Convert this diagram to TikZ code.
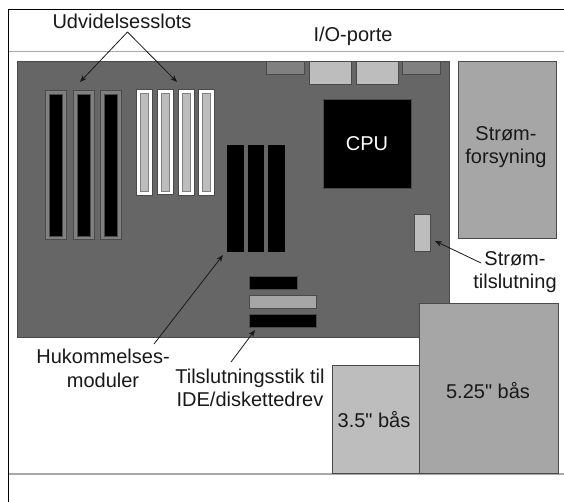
\documentclass[tikz,border=0pt]{standalone}
\usepackage{fontspec}
\setmainfont{Liberation Sans}
\newfontfamily\plainquote{Liberation Sans}
\usetikzlibrary{arrows.meta}
\definecolor{board}{HTML}{666666}
\definecolor{edge}{HTML}{4A4A4A}
\definecolor{midgray}{HTML}{808080}
\definecolor{lightgray2}{HTML}{BDBDBD}
\definecolor{psu}{HTML}{A6A6A6}
\definecolor{rule}{HTML}{A8A8A8}
\tikzset{
  x=1pt,y=-1pt,
  lbl/.style={font=\fontsize{20}{23}\selectfont,align=center,inner sep=0pt,text=black!90},
  pointer/.style={draw=black!90,line width=0.8pt,-{Stealth[length=7pt,width=5.5pt]}}
}
\newcommand{\blackslot}[1]{%
  \fill[midgray,draw=edge,line width=0.8pt] (#1,90) rectangle (#1+21,239);
  \fill[black,draw=edge,line width=0.6pt] (#1+4,94) rectangle (#1+17,236);}
\newcommand{\whiteslot}[2]{%
  \fill[white,draw=edge,line width=0.8pt] (#1,#2) rectangle (#1+16,#2+105.5);
  \fill[lightgray2,draw=midgray,line width=0.8pt] (#1+4,#2+4) rectangle (#1+12,#2+102);}
\begin{document}
\begin{tikzpicture}
\useasboundingbox (0,0) rectangle (564,502);
\fill[white] (0,0) rectangle (564,502);
% page rules
\draw[rule,line width=1pt] (9,52) -- (564,52);
\draw[rule,line width=1.2pt] (9,474) -- (564,474);
\draw[black,line width=1pt] (8.5,502) -- (8.5,9.5) -- (564,9.5);
% board
\node[fill=board,draw=edge,line width=0.6pt,minimum width=432pt,minimum height=276pt,inner sep=0pt,anchor=north west] (brd) at (17,61) {};
% top ports
\fill[midgray,draw=edge,line width=0.8pt] (266,61) rectangle (304,74);
\fill[lightgray2,draw=edge,line width=0.8pt] (309,61) rectangle (351,84);
\fill[lightgray2,draw=edge,line width=0.8pt] (356,61) rectangle (398,84);
\fill[midgray,draw=edge,line width=0.8pt] (402,61) rectangle (440,74);
% expansion slots
\blackslot{45}\blackslot{73}\blackslot{100.5}
\whiteslot{136}{89.5}\whiteslot{157}{89}\whiteslot{178}{89.5}\whiteslot{198}{89.5}
% memory
\fill[black] (227,145) rectangle (244,252);
\fill[black] (248,145) rectangle (264,252);
\fill[black] (268,145) rectangle (285,252);
% drive connectors
\fill[black,draw=edge,line width=0.6pt] (249,276) rectangle (297,289);
\fill[psu,draw=edge,line width=0.8pt] (249,295) rectangle (316,308);
\fill[black,draw=edge,line width=0.6pt] (249,314) rectangle (316,327);
% CPU
\node[fill=black,draw=edge,line width=0.5pt,minimum width=88.5pt,minimum height=89pt,inner sep=0pt,anchor=north west,text=white,font=\fontsize{20}{23}\selectfont] (cpu) at (322.5,99) {CPU};
% power connector
\node[fill=lightgray2,draw=edge,line width=0.8pt,minimum width=16pt,minimum height=37pt,inner sep=0pt,anchor=north west] (pwrc) at (414,214) {};
% power supply
\node[fill=psu,draw=edge,line width=0.8pt,minimum width=98pt,minimum height=177pt,inner sep=0pt,anchor=north west] (psu) at (458,61) {};
\node[lbl] (psul) at (506,147) {Strøm-\\forsyning};
% drive bays
\node[fill=lightgray2,draw=edge,line width=0.9pt,minimum width=87pt,minimum height=108pt,inner sep=0pt,anchor=north west] (b35) at (332,365) {};
\node[fill=psu,draw=edge,line width=0.9pt,minimum width=139pt,minimum height=170pt,inner sep=0pt,anchor=north west] (b525) at (419,303) {};
\node[lbl] (b35l) at (374,420) {{\plainquote 3.5" bås}};
\node[lbl] (b525l) at (488,391) {{\plainquote 5.25" bås}};
% labels
\node[lbl] (udv) at (122,21) {Udvidelsesslots};
\node[lbl] (io) at (353,36) {I/O-porte};
\node[lbl] (huk) at (103,368) {Hukommelses-\\[1pt]moduler};
\node[lbl] (tils) at (250,387.5) {Tilslutningsstik til\\IDE/diskettedrev};
\node[lbl] (strl) at (515,272.5) {Strøm-\\tilslutning};
% connector ends
\coordinate (udvtail) at (127.5,32);
\coordinate (tipa) at (80,82);
\coordinate (tipb) at (177,82);
\coordinate (huktail) at (154,344);
\coordinate (huktip) at (223,255);
\coordinate (tiltail) at (231,362);
\coordinate (tiltip) at (255,330);
\coordinate (strtail) at (481,263);
\coordinate (strtip) at (435,241);
\draw[pointer] (udvtail) -- (tipa);
\draw[pointer] (udvtail) -- (tipb);
\draw[pointer] (huktail) -- (huktip);
\draw[pointer] (tiltail) -- (tiltip);
\draw[pointer] (strtail) -- (strtip);
\end{tikzpicture}
\end{document}
